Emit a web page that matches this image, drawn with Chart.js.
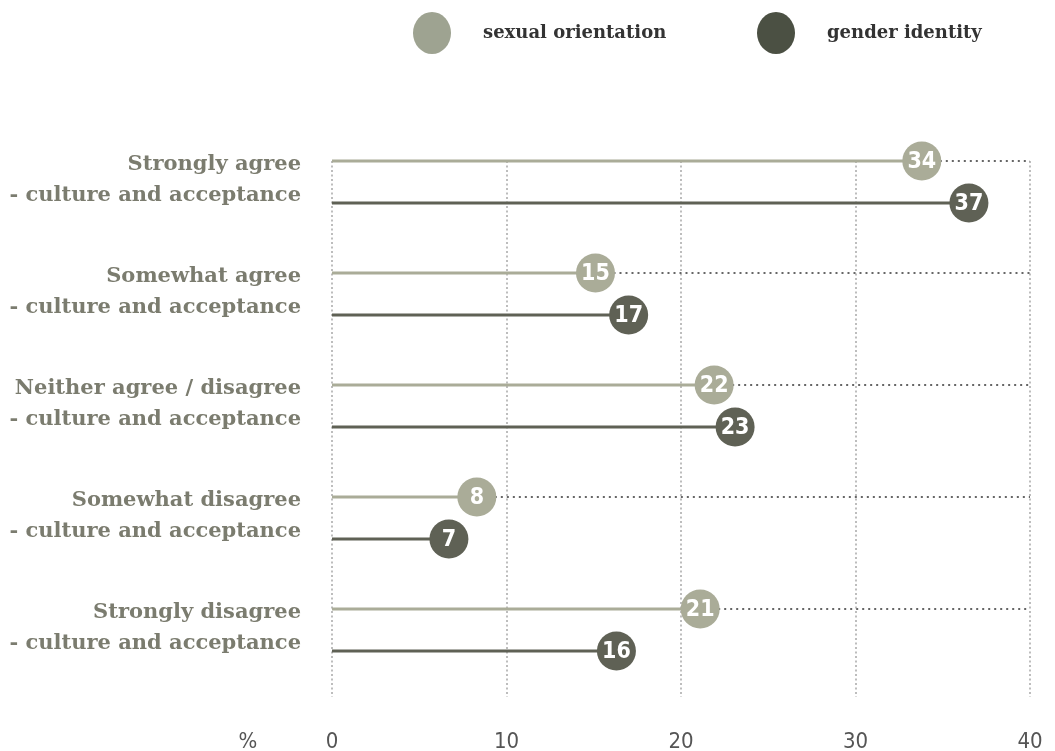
<!DOCTYPE html>
<html>
<head>
<meta charset="utf-8">
<script src="https://cdn.jsdelivr.net/npm/chart.js@4.4.1/dist/chart.umd.min.js"></script>
<style>
  html, body { margin: 0; padding: 0; background: #ffffff; }
  #wrap { width: 1055px; height: 751px; position: relative; }
</style>
</head>
<body>
<div id="wrap"><canvas id="c" width="1055" height="751"></canvas></div>
<script>
// ---- data ----
const categories = [
  ['Strongly agree', '- culture and acceptance'],
  ['Somewhat agree', '- culture and acceptance'],
  ['Neither agree / disagree', '- culture and acceptance'],
  ['Somewhat disagree', '- culture and acceptance'],
  ['Strongly disagree', '- culture and acceptance']
];
const seriesNames = ['sexual orientation', 'gender identity'];
const sexualOrientation = [33.8, 15.1, 21.9, 8.3, 21.1];
const genderIdentity = [36.5, 17.0, 23.1, 6.7, 16.3];
const sexualOrientationLabels = ['34', '15', '22', '8', '21'];
const genderIdentityLabels = ['37', '17', '23', '7', '16'];
const xTicks = [0, 10, 20, 30, 40];
const unitLabel = '%';

// ---- styling ----
const SO_COLOR = '#aaac98';
const GI_COLOR = '#5f6155';
const SO_LEGEND = '#9ea391';
const GI_LEGEND = '#4b5043';
const LABEL_COLOR = '#7b7c6f';
const SLAB = '"DejaVu Serif", "Liberation Serif", serif';
const NARROW = '"DejaVu Sans Condensed", "Liberation Sans Narrow", "Roboto", sans-serif';

const ROW = 112, GAP = 42;
const soPts = sexualOrientation.map((v, i) => ({ x: v, y: i * ROW }));
const giPts = genderIdentity.map((v, i) => ({ x: v, y: i * ROW + GAP }));

const stemPlugin = {
  id: 'stems',
  beforeDatasetsDraw(chart) {
    const ctx = chart.ctx;
    const xs = chart.scales.x;
    const x0 = xs.getPixelForValue(xTicks[0]);
    const xEnd = xs.getPixelForValue(xTicks[xTicks.length - 1]);
    chart.data.datasets.forEach((ds, di) => {
      const meta = chart.getDatasetMeta(di);
      meta.data.forEach(el => {
        ctx.save();
        if (di === 0) {
          ctx.setLineDash([2, 4]);
          ctx.lineWidth = 2;
          ctx.strokeStyle = '#666666';
          ctx.beginPath();
          ctx.moveTo(el.x, el.y);
          ctx.lineTo(xEnd, el.y);
          ctx.stroke();
          ctx.setLineDash([]);
        }
        ctx.lineWidth = 3;
        ctx.strokeStyle = ds.borderColor;
        ctx.beginPath();
        ctx.moveTo(x0, el.y);
        ctx.lineTo(el.x, el.y);
        ctx.stroke();
        ctx.restore();
      });
    });
  },
  afterDatasetsDraw(chart) {
    const ctx = chart.ctx;
    chart.data.datasets.forEach((ds, di) => {
      const meta = chart.getDatasetMeta(di);
      meta.data.forEach((el, i) => {
        ctx.save();
        ctx.fillStyle = '#ffffff';
        ctx.font = 'bold 23px ' + NARROW;
        ctx.textAlign = 'center';
        ctx.textBaseline = 'middle';
        ctx.fillText(ds.valueLabels[i], el.x, el.y + 1);
        ctx.restore();
      });
    });
  },
  afterDraw(chart) {
    const ctx = chart.ctx;
    // legend
    const items = [
      { x: 432, color: SO_LEGEND, text: seriesNames[0] },
      { x: 776, color: GI_LEGEND, text: seriesNames[1] }
    ];
    items.forEach(it => {
      ctx.save();
      ctx.fillStyle = it.color;
      ctx.beginPath();
      ctx.ellipse(it.x, 33, 19, 21, 0, 0, Math.PI * 2);
      ctx.fill();
      ctx.fillStyle = '#333333';
      ctx.font = 'bold 18px ' + SLAB;
      ctx.textAlign = 'left';
      ctx.textBaseline = 'middle';
      ctx.fillText(it.text, it.x + 51, 33);
      ctx.restore();
    });
    // unit label
    ctx.save();
    ctx.fillStyle = '#555555';
    ctx.font = '22px ' + NARROW;
    ctx.textAlign = 'center';
    ctx.textBaseline = 'middle';
    ctx.fillText(unitLabel, 248, 742);
    ctx.restore();
  }
};

new Chart(document.getElementById('c'), {
  type: 'scatter',
  data: {
    datasets: [
      {
        label: seriesNames[0], data: soPts, valueLabels: sexualOrientationLabels,
        backgroundColor: SO_COLOR, borderColor: SO_COLOR,
        pointRadius: 19.5, pointHoverRadius: 19.5, pointBorderWidth: 0
      },
      {
        label: seriesNames[1], data: giPts, valueLabels: genderIdentityLabels,
        backgroundColor: GI_COLOR, borderColor: GI_COLOR,
        pointRadius: 19.5, pointHoverRadius: 19.5, pointBorderWidth: 0
      }
    ]
  },
  options: {
    responsive: false,
    animation: false,
    clip: false,
    layout: { padding: { top: 161, right: 25, bottom: 0, left: 0 } },
    plugins: { legend: { display: false }, tooltip: { enabled: false } },
    scales: {
      x: {
        type: 'linear', min: xTicks[0], max: xTicks[xTicks.length - 1],
        afterBuildTicks(scale) { scale.ticks = xTicks.map(v => ({ value: v })); },
        afterFit(scale) { scale.height = 54; scale.paddingRight = 0; scale.paddingLeft = 0; },
        grid: { color: '#bdbdbd', lineWidth: 2, drawTicks: false },
        border: { display: false, dash: [2, 2.5] },
        ticks: { color: '#555555', font: { family: NARROW, size: 22 }, padding: 32 }
      },
      y: {
        type: 'linear', reverse: true, min: 0, max: 536,
        afterBuildTicks(scale) { scale.ticks = categories.map((c, i) => ({ value: i * ROW + 19.5 })); },
        afterFit(scale) { scale.width = 332; scale.paddingTop = 0; scale.paddingBottom = 0; },
        grid: { display: false, drawTicks: false },
        border: { display: false },
        ticks: {
          color: LABEL_COLOR,
          font: { family: SLAB, size: 21, weight: 'bold', lineHeight: 1.48 },
          padding: 31,
          callback: (v, idx) => categories[idx]
        }
      }
    }
  },
  plugins: [stemPlugin]
});
</script>
</body>
</html>
